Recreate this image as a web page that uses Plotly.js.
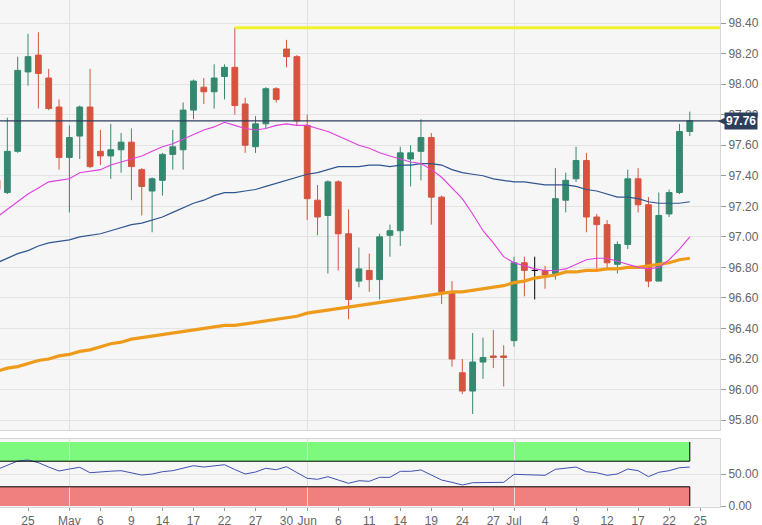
<!DOCTYPE html>
<html>
<head>
<meta charset="utf-8">
<script src="https://cdn.plot.ly/plotly-3.0.1.min.js"></script>
<style>html,body{margin:0;padding:0;background:#fff;}#chart{width:762px;height:525px;}</style>
</head>
<body>
<div id="chart"></div>
<script>
// ---- DATA ----
const dates = [
 '2019-04-22','2019-04-23','2019-04-24','2019-04-25','2019-04-26','2019-04-29','2019-04-30',
 '2019-05-01','2019-05-02','2019-05-03','2019-05-06','2019-05-07','2019-05-08','2019-05-09','2019-05-10',
 '2019-05-13','2019-05-14','2019-05-15','2019-05-16','2019-05-17','2019-05-20','2019-05-21','2019-05-22',
 '2019-05-23','2019-05-24','2019-05-27','2019-05-28','2019-05-29','2019-05-30','2019-05-31',
 '2019-06-03','2019-06-04','2019-06-05','2019-06-06','2019-06-07','2019-06-10','2019-06-11','2019-06-12',
 '2019-06-13','2019-06-14','2019-06-17','2019-06-18','2019-06-19','2019-06-20','2019-06-21','2019-06-24',
 '2019-06-25','2019-06-26','2019-06-27','2019-06-28','2019-07-01','2019-07-02','2019-07-03','2019-07-04',
 '2019-07-05','2019-07-08','2019-07-09','2019-07-10','2019-07-11','2019-07-12','2019-07-15','2019-07-16',
 '2019-07-17','2019-07-18','2019-07-19','2019-07-22','2019-07-23','2019-07-24'
];
const open = [97.37,97.29,97.56,98.08,98.19,98.04,97.85,97.52,97.66,97.85,97.56,97.53,97.57,97.62,97.44,
 97.30,97.37,97.54,97.57,97.83,97.98,97.95,98.05,98.11,97.87,97.59,97.74,97.97,98.23,98.18,
 97.73,97.24,97.14,97.36,97.02,96.71,96.78,96.72,97.01,97.04,97.51,97.56,97.65,97.26,96.63,96.11,
 95.99,96.18,96.22,96.22,96.32,96.83,96.78,96.78,96.76,97.24,97.38,97.50,97.13,97.08,96.82,96.95,
 97.38,97.21,96.71,97.15,97.29,97.69];
const high = [97.40,97.78,98.18,98.33,98.34,98.10,97.90,97.73,97.86,98.10,97.70,97.74,97.68,97.71,97.45,
 97.39,97.55,97.70,97.88,98.03,98.04,98.13,98.13,98.37,97.91,97.79,97.98,97.98,98.29,98.19,
 97.80,97.34,97.37,97.37,97.18,96.93,96.89,97.02,97.08,97.59,97.60,97.77,97.68,97.27,96.71,96.20,
 96.37,96.34,96.39,96.29,96.87,96.87,96.87,96.81,97.45,97.42,97.59,97.55,97.15,97.11,96.97,97.44,
 97.45,97.26,97.29,97.31,97.74,97.82];
const low = [97.28,97.28,97.55,97.99,97.84,97.83,97.44,97.16,97.51,97.45,97.47,97.38,97.42,97.24,97.14,
 97.03,97.27,97.44,97.44,97.77,97.87,97.84,97.90,97.80,97.55,97.55,97.71,97.88,98.11,97.73,
 97.11,97.01,96.76,96.78,96.46,96.67,96.64,96.59,96.87,96.94,97.33,97.37,97.08,96.56,96.15,95.97,
 95.84,96.07,96.14,96.02,96.28,96.61,96.59,96.66,96.72,97.16,97.36,97.03,96.79,96.79,96.76,96.92,
 97.16,96.67,96.71,97.13,97.28,97.66];
const close = [97.31,97.56,98.09,98.18,98.07,97.84,97.52,97.65,97.85,97.46,97.53,97.57,97.62,97.46,97.33,
 97.38,97.54,97.59,97.83,98.02,97.95,98.04,98.11,97.86,97.60,97.74,97.97,97.90,98.18,97.76,
 97.25,97.13,97.36,97.02,96.59,96.79,96.72,97.00,97.04,97.55,97.55,97.65,97.26,96.64,96.20,95.99,
 96.18,96.21,96.21,96.21,96.83,96.78,96.78,96.75,97.25,97.37,97.50,97.13,97.08,96.83,96.95,97.38,
 97.21,96.71,97.14,97.29,97.69,97.76];
const sma20 = [97.13,97.18,97.23,97.28,97.32,97.36,97.37,97.38,97.42,97.43,97.44,97.47,97.49,97.51,97.53,
 97.56,97.59,97.61,97.64,97.67,97.70,97.72,97.75,97.73,97.71,97.70,97.71,97.73,97.74,97.73,
 97.73,97.71,97.69,97.66,97.63,97.60,97.58,97.55,97.53,97.51,97.49,97.48,97.44,97.39,97.32,97.25,
 97.15,97.04,96.96,96.87,96.83,96.81,96.79,96.78,96.78,96.79,96.82,96.85,96.86,96.86,96.84,96.82,
 96.80,96.79,96.80,96.85,96.92,97.00];
const sma50 = [96.83,96.86,96.89,96.91,96.94,96.96,96.97,96.98,97.00,97.01,97.02,97.04,97.06,97.08,97.09,
 97.11,97.13,97.16,97.19,97.22,97.24,97.27,97.29,97.29,97.30,97.31,97.33,97.35,97.37,97.39,
 97.41,97.42,97.44,97.46,97.46,97.46,97.47,97.47,97.46,97.47,97.47,97.48,97.48,97.47,97.44,97.42,
 97.41,97.40,97.38,97.37,97.36,97.36,97.35,97.34,97.34,97.34,97.33,97.31,97.30,97.28,97.26,97.26,
 97.25,97.23,97.22,97.22,97.22,97.23];
const sma200 = [96.12,96.14,96.15,96.17,96.19,96.20,96.22,96.23,96.25,96.26,96.28,96.30,96.31,96.33,96.34,
 96.35,96.36,96.37,96.38,96.39,96.40,96.41,96.42,96.42,96.43,96.44,96.45,96.46,96.47,96.48,
 96.50,96.51,96.52,96.53,96.54,96.55,96.56,96.57,96.58,96.59,96.60,96.61,96.62,96.63,96.64,96.64,
 96.65,96.66,96.67,96.68,96.70,96.71,96.73,96.74,96.75,96.77,96.77,96.78,96.78,96.79,96.79,96.80,
 96.80,96.81,96.82,96.83,96.85,96.86];
const rsi = [57.0,63.3,70.3,71.9,67.7,60.9,54.7,57.8,60.5,52.0,53.6,54.4,55.2,51.6,48.4,
 50.0,53.6,55.2,59.4,63.0,60.9,63.0,64.5,57.0,50.0,53.1,58.9,56.7,61.4,52.3,
 43.3,41.7,45.8,40.6,35.5,39.5,38.6,44.8,44.8,54.2,54.2,56.3,48.4,40.6,37.0,32.8,
 36.4,36.9,37.5,37.0,49.5,49.0,48.4,48.0,57.3,59.1,60.9,53.6,52.0,48.0,50.0,57.8,
 55.2,45.8,52.7,55.2,59.8,60.9];
const resistanceLevel = 98.37;
const resistanceStart = '2019-05-23';
const lastPrice = 97.76;
const rsiUpper = 70, rsiLower = 30;
const tickDates = ['2019-04-22','2019-04-25','2019-05-01','2019-05-06','2019-05-09','2019-05-14','2019-05-17',
 '2019-05-22','2019-05-27','2019-05-30','2019-06-03','2019-06-06','2019-06-11','2019-06-14','2019-06-19',
 '2019-06-24','2019-06-27','2019-07-01','2019-07-04','2019-07-09','2019-07-12','2019-07-17','2019-07-22','2019-07-25'];
const tickLabels = ['22','25','May','6','9','14','17','22','27','30','Jun','6','11','14','19','24','27','Jul','4','9','12','17','22','25'];
const monthStarts = ['2019-05-01','2019-06-03','2019-07-01'];

// ---- helpers: trading-day index (weekdays since first date) ----
function dayIndex(d){
  const t0 = Date.parse(dates[0]+'T00:00:00Z'), t = Date.parse(d+'T00:00:00Z');
  let n = 0;
  for(let u = t0; u < t; u += 86400000){
    const wd = new Date(u + 86400000).getUTCDay();
    if(wd !== 0 && wd !== 6) n++;
  }
  return n;
}
const xi = dates.map(dayIndex);
const isDoji = open.map((o,i)=> o === close[i]);
const pick = (arr, want) => arr.map((v,i)=> isDoji[i] === want ? v : null);

const GREEN = '#34886f', RED = '#d6543f', NAVY = '#2c3e5c';
const lastIdx = xi[xi.length-1];

const traces = [
  {type:'candlestick', x: xi, open: pick(open,false), high: pick(high,false), low: pick(low,false), close: pick(close,false),
   xaxis:'x2', yaxis:'y', whiskerwidth:0,
   increasing:{line:{color:GREEN, width:1}, fillcolor:GREEN},
   decreasing:{line:{color:RED, width:1}, fillcolor:RED}, hoverinfo:'skip', showlegend:false},
  {type:'candlestick', x: xi, open: pick(open,true), high: pick(high,true), low: pick(low,true), close: pick(close,true),
   xaxis:'x2', yaxis:'y', whiskerwidth:0,
   increasing:{line:{color:'#000', width:1}, fillcolor:'#000'},
   decreasing:{line:{color:'#000', width:1}, fillcolor:'#000'}, hoverinfo:'skip', showlegend:false},
  {type:'scatter', mode:'lines', x: xi, y: sma200, xaxis:'x2', yaxis:'y', line:{color:'#ee9b1c', width:3.2}, hoverinfo:'skip', showlegend:false},
  {type:'scatter', mode:'lines', x: xi, y: sma50, xaxis:'x2', yaxis:'y', line:{color:'#2f5590', width:1.2}, hoverinfo:'skip', showlegend:false},
  {type:'scatter', mode:'lines', x: xi, y: sma20, xaxis:'x2', yaxis:'y', line:{color:'#e040e0', width:1.1}, hoverinfo:'skip', showlegend:false},
  {type:'scatter', mode:'lines', x: xi, y: rsi, xaxis:'x', yaxis:'y2', line:{color:'#4050b0', width:1}, hoverinfo:'skip', showlegend:false}
];

const tickvals = tickDates.map(dayIndex);
const gridvals = monthStarts.map(dayIndex);
const xr = [0.29, 69.92];
const font = {family:'"Liberation Sans", Arial, sans-serif', size:12, color:'#666'};

const layout = {
  width:762, height:525,
  margin:{l:0, r:42, t:0, b:18, pad:0},
  paper_bgcolor:'#ffffff', plot_bgcolor:'#f6f6f6',
  font: font, showlegend:false, boxgap:0.2, dragmode:false,
  xaxis:{domain:[0,1], anchor:'y2', range:xr, tickmode:'array', tickvals:tickvals, ticktext:tickLabels,
    ticks:'outside', ticklen:3, tickcolor:'#999', showgrid:false, zeroline:false,
    showline:true, linecolor:'#d6d6d6', mirror:true, rangeslider:{visible:false},
    minor:{tickmode:'array', tickvals:gridvals, showgrid:true, gridcolor:'#e0e0e0', gridwidth:1, ticks:''}},
  xaxis2:{domain:[0,1], anchor:'y', matches:'x', range:xr, showticklabels:false, ticks:'', showgrid:false, zeroline:false,
    showline:true, linecolor:'#d6d6d6', mirror:true, rangeslider:{visible:false},
    minor:{tickmode:'array', tickvals:gridvals, showgrid:true, gridcolor:'#e0e0e0', gridwidth:1, ticks:''}},
  yaxis:{domain:[0.15187,1], anchor:'x2', side:'right', range:[95.735, 98.551], tick0:95.8, dtick:0.2, tickformat:'.2f',
    ticks:'outside', ticklen:5, tickcolor:'#999', gridcolor:'#e3e3e3', zeroline:false,
    showline:true, linecolor:'#d6d6d6', mirror:true},
  yaxis2:{domain:[0,0.1341], anchor:'x', side:'right', range:[-1.56, 104.7], tickmode:'array', tickvals:[0,50],
    ticktext:['0.00','50.00'], ticks:'outside', ticklen:5, tickcolor:'#999', gridcolor:'#e3e3e3', zeroline:false,
    showline:true, linecolor:'#d6d6d6', mirror:true},
  shapes:[
    {type:'rect', xref:'x', yref:'y2', x0:-2, x1:lastIdx, y0:rsiUpper, y1:100, fillcolor:'#7dfa7d', line:{width:0}, layer:'below'},
    {type:'rect', xref:'x', yref:'y2', x0:-2, x1:lastIdx, y0:0, y1:rsiLower, fillcolor:'#f08080', line:{width:0}, layer:'below'},
    {type:'line', xref:'x', yref:'y2', x0:-2, x1:lastIdx, y0:rsiUpper, y1:rsiUpper, line:{color:'#000', width:1}},
    {type:'line', xref:'x', yref:'y2', x0:-2, x1:lastIdx, y0:rsiLower, y1:rsiLower, line:{color:'#000', width:1}},
    {type:'line', xref:'x', yref:'y2', x0:lastIdx, x1:lastIdx, y0:rsiUpper, y1:100, line:{color:'#000', width:1}},
    {type:'line', xref:'x', yref:'y2', x0:lastIdx, x1:lastIdx, y0:0, y1:rsiLower, line:{color:'#000', width:1}},
    {type:'line', xref:'x2', yref:'y', x0:dayIndex(resistanceStart), x1:xr[1]+1, y0:resistanceLevel, y1:resistanceLevel,
      line:{color:'#f2f230', width:3}},
    {type:'line', xref:'paper', yref:'y', x0:0, x1:1, y0:lastPrice, y1:lastPrice, line:{color:NAVY, width:1.2}}
  ],
  annotations:[
    {xref:'paper', yref:'y', x:1, y:lastPrice, xanchor:'left', yanchor:'middle', xshift:-4, showarrow:false,
     text:'◀', font:{family:'DejaVu Sans', size:11, color:NAVY}},
    {xref:'paper', yref:'y', x:1, y:lastPrice, xanchor:'left', yanchor:'middle', xshift:4, showarrow:false,
     text:'<b>' + lastPrice.toFixed(2) + '</b>', bgcolor:NAVY, borderpad:1,
     font:{family:'"Liberation Sans", Arial, sans-serif', size:12, color:'#ffffff'}}
  ]
};

Plotly.newPlot('chart', traces, layout, {staticPlot:true, displayModeBar:false});
</script>
</body>
</html>
